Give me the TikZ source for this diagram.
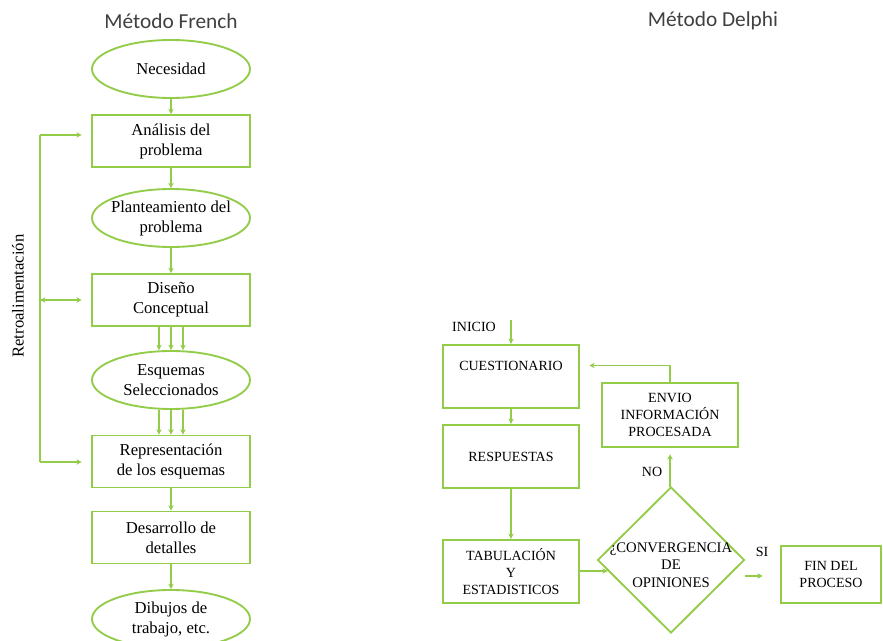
\documentclass[tikz,border=0pt]{standalone}
\usepackage{fontspec}
\setmainfont{Liberation Serif}
\newfontfamily\titlefont{Carlito}
\usetikzlibrary{shapes.geometric,arrows.meta,calc}
\definecolor{leaf}{RGB}{146,204,72}
\definecolor{titlegray}{RGB}{64,64,64}
\tikzset{
  x=0.75pt, y=-0.75pt,
  line/.style={draw=leaf, line width=1.4pt},
  arr/.style={line, -{Stealth[length=4pt,width=4pt]}},
  biarr/.style={line, {Stealth[length=4pt,width=4pt]}-{Stealth[length=4pt,width=4pt]}},
  ftext/.style={font=\fontsize{12.5}{15}\selectfont, align=center, text=black},
  dtext/.style={font=\fontsize{10.5}{12.5}\selectfont, align=center, text=black},
  oval/.style={ellipse, line, inner xsep=-14pt, inner ysep=-4pt, minimum width=118.5pt, minimum height=43.5pt, ftext},
  fbox/.style={rectangle, line, inner sep=0pt, minimum width=118.5pt, minimum height=39pt, ftext},
  dbox/.style={rectangle, line, inner sep=0pt, minimum width=102pt, minimum height=47.5pt, dtext},
  titletext/.style={font=\titlefont\fontsize{16}{19}\selectfont, text=titlegray},
}
\begin{document}
\begin{tikzpicture}
\clip (0,0) rectangle (883,641);
\fill[white] (0,0) rectangle (883,641);

% ---------- French method ----------
\node[titletext] (tf) at (171,21) {Método French};

\node[oval] (nec) at (171,69) {Necesidad};
\node[fbox] (ana) at (171,141) {Análisis del\\problema};
\node[oval] (pla) at (171,218) {Planteamiento del\\problema};
\node[fbox] (dis) at (171,300) {Diseño\\Conceptual};
\node[oval] (esq) at (171,380) {Esquemas\\Seleccionados};
\node[fbox] (rep) at (171,461.5) {Representación\\de los esquemas};
\node[fbox] (des) at (171,537.5) {Desarrollo de\\detalles};
\node[oval] (dib) at (171,619) {Dibujos de\\trabajo, etc.};

\draw[arr] (nec) -- (ana);
\draw[arr] (ana) -- (pla);
\draw[arr] (pla) -- (dis);
\foreach \dx in {-9,0,9} {
  \draw[arr] ([xshift=\dx pt]dis.south) -- ([xshift=\dx pt]dis.south |- esq.north);
  \draw[arr] ([xshift=\dx pt]esq.south) -- ([xshift=\dx pt]esq.south |- rep.north);
}
\draw[arr] (rep) -- (des);
\draw[arr] (des) -- (dib);

% feedback loop
\coordinate (fbtop) at (40,135);
\coordinate (fbbot) at (40,462);
\draw[line] (fbtop) -- (fbbot);
\draw[arr, shorten >=7pt] (fbtop) -- (fbtop -| ana.west);
\draw[biarr, shorten >=7pt] (fbtop |- dis.west) -- (dis.west);
\draw[arr, shorten >=7pt] (fbbot) -- (fbbot -| rep.west);
\node[ftext, rotate=90] (retro) at (18,296) {Retroalimentación};

% ---------- Delphi method ----------
\node[titletext] (td) at (713,21) {Método Delphi};

\node[dbox] (cue) at (511,376.5) {CUESTIONARIO\\[4pt]};
\node[dbox] (res) at (511,456.5) {RESPUESTAS};
\node[dbox] (tab) at (511,571.5) {TABULACIÓN\\Y\\ESTADISTICOS};
\node[dbox] (env) at (670,415) {ENVIO\\INFORMACIÓN\\PROCESADA};
\node[diamond, line, inner sep=0pt, minimum width=110.25pt, minimum height=109.5pt] (dec) at (671,560) {};
\node[dtext, font=\fontsize{11}{13}\selectfont] (dect) at (671,565) {¿CONVERGENCIA\\DE\\OPINIONES};
\node[rectangle, line, inner sep=0pt, minimum width=75pt, minimum height=42.75pt, dtext] (fin) at (831,574.5) {FIN DEL\\PROCESO};

\node[dtext] (ini) at (474,327) {INICIO};
\node[dtext] (no) at (652,472) {NO};
\node[dtext] (si) at (762,552) {SI};

\coordinate (start) at (511,320);
\draw[arr] (start) -- (cue.north);
\draw[arr] (cue) -- (res);
\draw[arr] (res) -- (tab);
\coordinate (inpt) at ($(dec.west)!0.15!(dec.south)$);
\draw[arr] (tab.east |- inpt) -- (inpt);
\draw[arr, shorten >=13pt] ([yshift=-12pt]dec.east) -- ([yshift=-12pt]dec.east -| fin.west);
\draw[arr, shorten >=5pt] (dec.north) -- (dec.north -| env.south) -- (env.south);
\draw[arr, shorten >=7pt] (env.north) |- ([yshift=8.25pt]cue.east);
\end{tikzpicture}
\end{document}
